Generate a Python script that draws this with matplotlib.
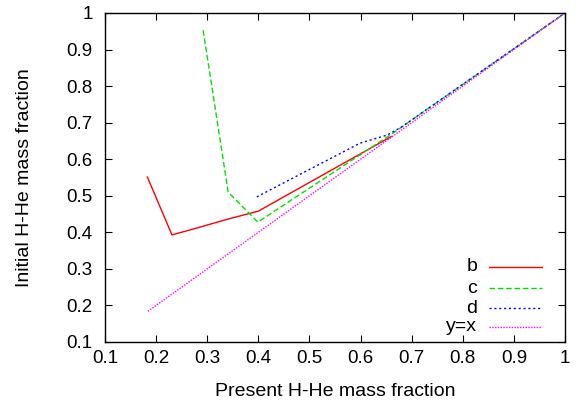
import matplotlib
matplotlib.use("Agg")
import matplotlib.pyplot as plt

plt.rcParams['font.family'] = ['Liberation Sans', 'DejaVu Sans']

# Present vs initial H-He mass fraction for each model
b_x = [0.183, 0.231, 0.27, 0.34, 0.40, 0.66]
b_y = [0.551, 0.393, 0.408, 0.436, 0.458, 0.662]

c_x = [0.292, 0.341, 0.399, 0.66, 1.0]
c_y = [0.953, 0.510, 0.428, 0.668, 1.0]

d_x = [0.397, 0.599, 0.652, 0.68, 1.0]
d_y = [0.497, 0.644, 0.666, 0.688, 1.0]

yx_x = [0.184, 1.0]
yx_y = [0.184, 1.0]

ticks = [0.1, 0.2, 0.3, 0.4, 0.5, 0.6, 0.7, 0.8, 0.9, 1]
tick_labels = ["0.1", "0.2", "0.3", "0.4", "0.5", "0.6", "0.7", "0.8", "0.9", "1"]

fig = plt.figure(figsize=(5.8, 4.03), dpi=100)
ax = fig.add_axes([105/580, 1 - 342/403, 460/580, 329/403])

series = [
    ("b", b_x, b_y, "#ff0000", "-"),
    ("c", c_x, c_y, "#00e000", (0, (4, 2))),
    ("d", d_x, d_y, "#0000ff", (0, (1.5, 2))),
    ("y=x", yx_x, yx_y, "#ff00ff", (0, (1, 1))),
]

# gnuplot style key: label right-aligned, sample line after it
key_rows = [0.228, 0.164, 0.103, 0.046]
for (name, xs, ys, col, ls), ky in zip(series, key_rows):
    ax.plot(xs, ys, color=col, linestyle=ls, linewidth=1)
    ax.text(0.809, ky, name, transform=ax.transAxes, ha="right", va="center",
            fontsize=14)
    ax.plot([0.835, 0.950], [ky, ky], transform=ax.transAxes, color=col,
            linestyle=ls, linewidth=1)

ax.set_xlim(0.1, 1)
ax.set_ylim(0.1, 1)
ax.set_xticks(ticks)
ax.set_xticklabels(tick_labels)
ax.set_yticks(ticks)
ax.set_yticklabels(tick_labels)
ax.tick_params(direction="in", length=5, width=0.8, top=True, right=True,
               labelsize=13.5)
ax.tick_params(axis="x", pad=6)
ax.tick_params(axis="y", pad=9)
for s in ax.spines.values():
    s.set_linewidth(1)

ax.set_xlabel("Present H-He mass fraction", fontsize=14, labelpad=11)
ax.set_ylabel("Initial H-He mass fraction", fontsize=14, labelpad=24)

fig.savefig("out.png", dpi=100)
